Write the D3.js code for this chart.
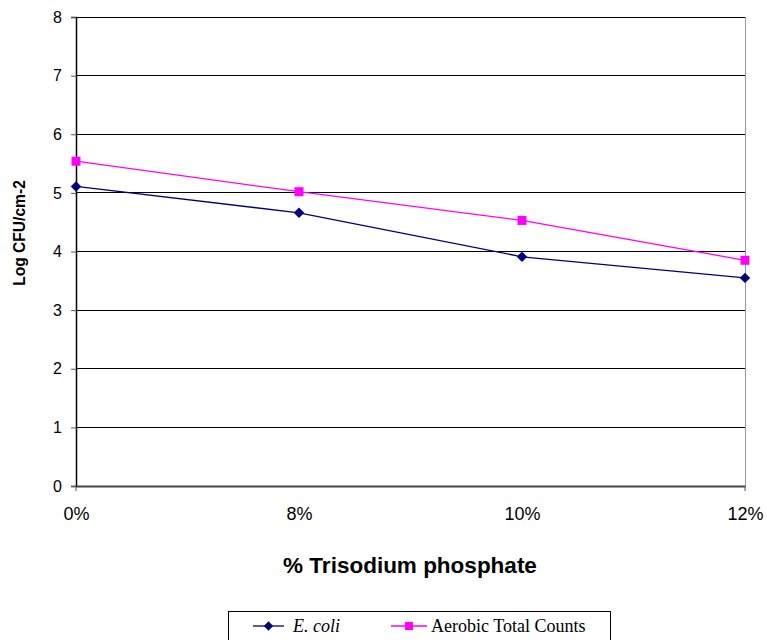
<!DOCTYPE html>
<html><head><meta charset="utf-8">
<script src="https://cdn.jsdelivr.net/npm/d3@7"></script>
<style>body{margin:0;background:#fff}svg{display:block}</style>
</head><body>
<svg id="c" width="767" height="640"></svg>
<script>
const categories = ["0%", "8%", "10%", "12%"];
const ecoli = [5.11, 4.66, 3.91, 3.55];
const aerobic = [5.54, 5.02, 4.53, 3.85];
const yTicks = [0, 1, 2, 3, 4, 5, 6, 7, 8];

const svg = d3.select("#c");
const L = 76, R = 745, T = 17, B = 486;
const x = d3.scalePoint().domain(categories).range([L, R]);
const y = d3.scaleLinear().domain([0, 8]).range([B, T]);
const sans = "Liberation Sans, Arial, sans-serif";

// gridlines
svg.append("g").selectAll("line").data(yTicks.filter(d => d > 0)).join("line")
  .attr("x1", L).attr("x2", R).attr("y1", d => y(d)).attr("y2", d => y(d))
  .attr("stroke", "#000").attr("stroke-width", 1).attr("shape-rendering", "crispEdges");
// right border
svg.append("line").attr("x1", R).attr("x2", R).attr("y1", T).attr("y2", B)
  .attr("stroke", "#999").attr("stroke-width", 1).attr("shape-rendering", "crispEdges");

// y axis
const ya = svg.append("g").attr("transform", `translate(${L},0)`)
  .call(d3.axisLeft(y).tickValues(yTicks).tickSize(5).tickPadding(9).tickFormat(d3.format("d")));
ya.select(".domain").attr("stroke", "#000").attr("stroke-width", 1.5);
ya.selectAll(".tick line").attr("stroke", "#555");
ya.selectAll("text").attr("font-family", sans).attr("font-size", 16).attr("fill", "#000");

// x axis
const xa = svg.append("g").attr("transform", `translate(0,${B})`)
  .call(d3.axisBottom(x).tickSize(0).tickPadding(21));
xa.select(".domain").attr("stroke", "#444").attr("stroke-width", 2);
xa.selectAll("text").attr("font-family", sans).attr("font-size", 18).attr("fill", "#000");
svg.append("g").selectAll("line").data([categories[0], categories[categories.length - 1]]).join("line")
  .attr("x1", d => x(d)).attr("x2", d => x(d)).attr("y1", B).attr("y2", B + 5)
  .attr("stroke", "#555");

// titles
svg.append("text").attr("transform", `translate(25,233) rotate(-90)`)
  .attr("text-anchor", "middle").attr("font-family", sans)
  .attr("font-weight", "bold").attr("font-size", 15.6).text("Log CFU/cm-2");
svg.append("text").attr("x", 410).attr("y", 573).attr("text-anchor", "middle")
  .attr("font-family", sans).attr("font-weight", "bold")
  .attr("font-size", 22.5).text("% Trisodium phosphate");

// series
const line = d3.line().x((d, i) => x(categories[i])).y(d => y(d));
svg.append("path").datum(ecoli).attr("d", line).attr("fill", "none").attr("stroke", "#000080").attr("stroke-width", 1.3);
svg.append("path").datum(aerobic).attr("d", line).attr("fill", "none").attr("stroke", "#ff00ff").attr("stroke-width", 1.3);
const diamond = d3.symbol().type(d3.symbolDiamond2).size(70);
svg.append("g").selectAll("path").data(ecoli).join("path")
  .attr("transform", (d, i) => `translate(${x(categories[i])},${y(d)})`)
  .attr("d", diamond).attr("fill", "#000080");
svg.append("g").selectAll("rect").data(aerobic).join("rect")
  .attr("x", (d, i) => x(categories[i]) - 4.5).attr("y", d => y(d) - 4.5)
  .attr("width", 9).attr("height", 9).attr("fill", "#ff00ff");

// legend
const lg = svg.append("g");
lg.append("rect").attr("x", 228.5).attr("y", 611.5).attr("width", 382).attr("height", 40)
  .attr("fill", "#fff").attr("stroke", "#000").attr("stroke-width", 1);
const items = [
  {name: "E. coli", color: "#000080", x0: 253, x1: 284, tx: 293, italic: true, sym: "d"},
  {name: "Aerobic Total Counts", color: "#ff00ff", x0: 391, x1: 427, tx: 431, italic: false, sym: "s"}
];
items.forEach(it => {
  const cy = 626;
  lg.append("line").attr("x1", it.x0).attr("x2", it.x1).attr("y1", cy).attr("y2", cy)
    .attr("stroke", it.color).attr("stroke-width", 1.3);
  const mx = (it.x0 + it.x1) / 2;
  if (it.sym === "d") {
    lg.append("path").attr("transform", `translate(${mx},${cy})`).attr("d", d3.symbol().type(d3.symbolDiamond2).size(55)).attr("fill", it.color);
  } else {
    lg.append("rect").attr("x", mx - 4).attr("y", cy - 4).attr("width", 8).attr("height", 8).attr("fill", it.color);
  }
  lg.append("text").attr("x", it.tx).attr("y", 632).attr("font-family", "Liberation Serif, Times New Roman, serif")
    .attr("font-size", 18).attr("font-style", it.italic ? "italic" : "normal").text(it.name);
});
</script>
</body></html>
